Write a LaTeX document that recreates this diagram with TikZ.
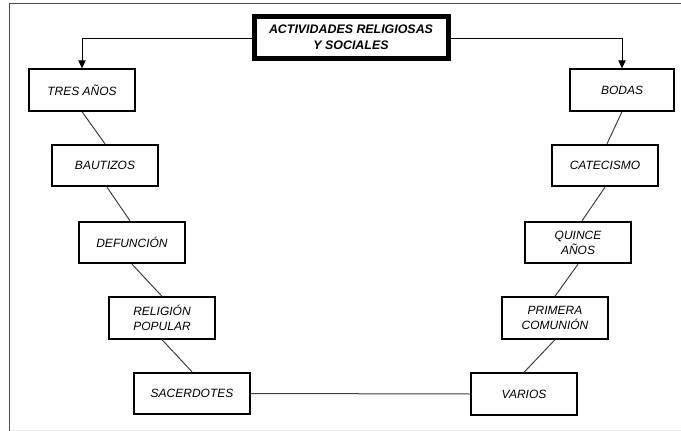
\documentclass[tikz,border=0pt]{standalone}
\usepackage{fontspec}
\setmainfont{Liberation Sans}
\usetikzlibrary{arrows.meta,calc}
\begin{document}
\begin{tikzpicture}[x=0.75pt,y=-0.75pt,
  box/.style={draw=black,line width=1.5pt,minimum width=79.5pt,minimum height=31pt,inner sep=0pt,align=center,font=\fontsize{9}{11.25}\selectfont\itshape},
  titlebox/.style={draw=black,line width=3.75pt,minimum width=145.5pt,minimum height=32pt,inner sep=0pt,align=center,font=\fontsize{9.3}{12}\selectfont\bfseries\itshape},
  link/.style={draw=black!75,line width=0.75pt},
  arrowline/.style={draw=black,line width=0.75pt,-{Triangle[length=6pt,width=5.5pt]}},
  frame/.style={draw=black!70,line width=0.9pt}]
\useasboundingbox (0,0) rectangle (681,431);
% frame
\coordinate (ftl) at (9.5,3.5);
\coordinate (ftr) at (681,3.5);
\coordinate (fbl) at (9.5,431);
\coordinate (fbr) at (681,430);
\draw[frame] (ftr) -- (ftl) -- (fbl);
\draw[draw=black!8,line width=0.75pt] ($(fbl)+(0,-1)$) -- (fbr);
% nodes
\node[titlebox] (title) at (351,37.5) {ACTIVIDADES RELIGIOSAS\\Y SOCIALES};
\node[box] (tres) at (82,90) {TRES AÑOS};
\node[box] (baut) at (105,165.5) {BAUTIZOS};
\node[box] (def) at (132,242.5) {DEFUNCIÓN};
\node[box] (rel) at (162,318) {RELIGIÓN\\POPULAR};
\node[box,minimum width=87pt] (sac) at (192,393.5) {SACERDOTES};
\node[box] (var) at (524,394) {VARIOS};
\node[box] (prim) at (555,318) {PRIMERA\\COMUNIÓN};
\node[box] (quin) at (578,242.5) {QUINCE\\AÑOS};
\node[box] (cat) at (605,165.5) {CATECISMO};
\node[box,minimum width=78pt] (bodas) at (622,90) {BODAS};
% arrows from title
\draw[arrowline] ($(title.west)+(0,1.5)$) -| (tres.north);
\draw[arrowline] ($(title.east)+(0,1.5)$) -| (bodas.north);
% chains
\draw[link] (tres.south) -- (baut.north);
\draw[link] ($(baut.south)+(2,0)$) -- ($(def.north)+(-2,0)$);
\draw[link] (def.south) -- (rel.north);
\draw[link] (rel.south) -- (sac.north);
\draw[link] (sac.east) -- (var.west);
\draw[link] (prim.south) -- (var.north);
\draw[link] (quin.south) -- (prim.north);
\draw[link] (cat.south) -- ($(quin.north)+(4,0)$);
\draw[link] (bodas.south) -- ($(cat.north)+(2,0)$);
\end{tikzpicture}
\end{document}
